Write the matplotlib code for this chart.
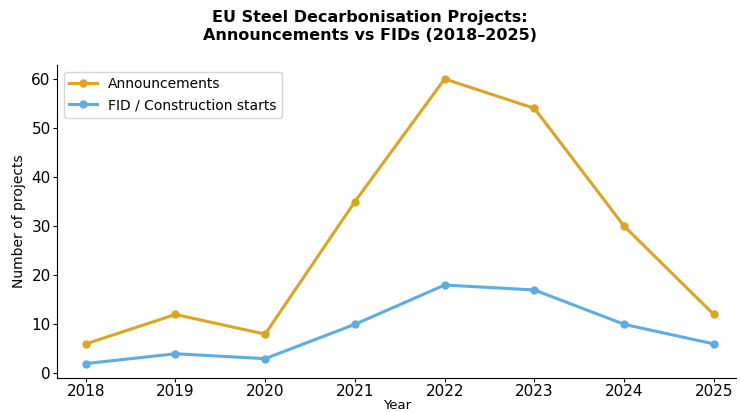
import matplotlib
matplotlib.use("Agg")
from matplotlib import pyplot as plt

years = [2018, 2019, 2020, 2021, 2022, 2023, 2024, 2025]
announcements = [6, 12, 8, 35, 60, 54, 30, 12]
fids = [2, 4, 3, 10, 18, 17, 10, 6]


def main():
    fig = plt.figure(figsize=(7.4, 4.12), dpi=100)
    ax = fig.add_axes([0.077, 0.083, 0.918, 0.76])

    ax.plot(years, announcements, color="#daa520", marker="o", markersize=5,
            linewidth=2.2, label="Announcements")
    ax.plot(years, fids, color="#5dade2", marker="o", markersize=5,
            linewidth=2.2, label="FID / Construction starts")

    ax.set_xticks(years)
    ax.set_xlim(2017.68, 2025.25)
    ax.set_ylim(-0.9, 62.9)
    ax.set_xlabel("Year", fontsize=9.5, labelpad=0)
    ax.set_ylabel("Number of projects", fontsize=10)
    ax.tick_params(labelsize=11, length=3, pad=1.5)
    for side in ("top", "right"):
        ax.spines[side].set_visible(False)
    ax.legend(loc="upper left", fontsize=10, frameon=True)

    fig.suptitle("EU Steel Decarbonisation Projects:\nAnnouncements vs FIDs (2018\u20132025)",
                 fontsize=11.5, fontweight="bold", y=0.975)
    fig.savefig("out.png", dpi=100)


if __name__ == "__main__":
    main()
